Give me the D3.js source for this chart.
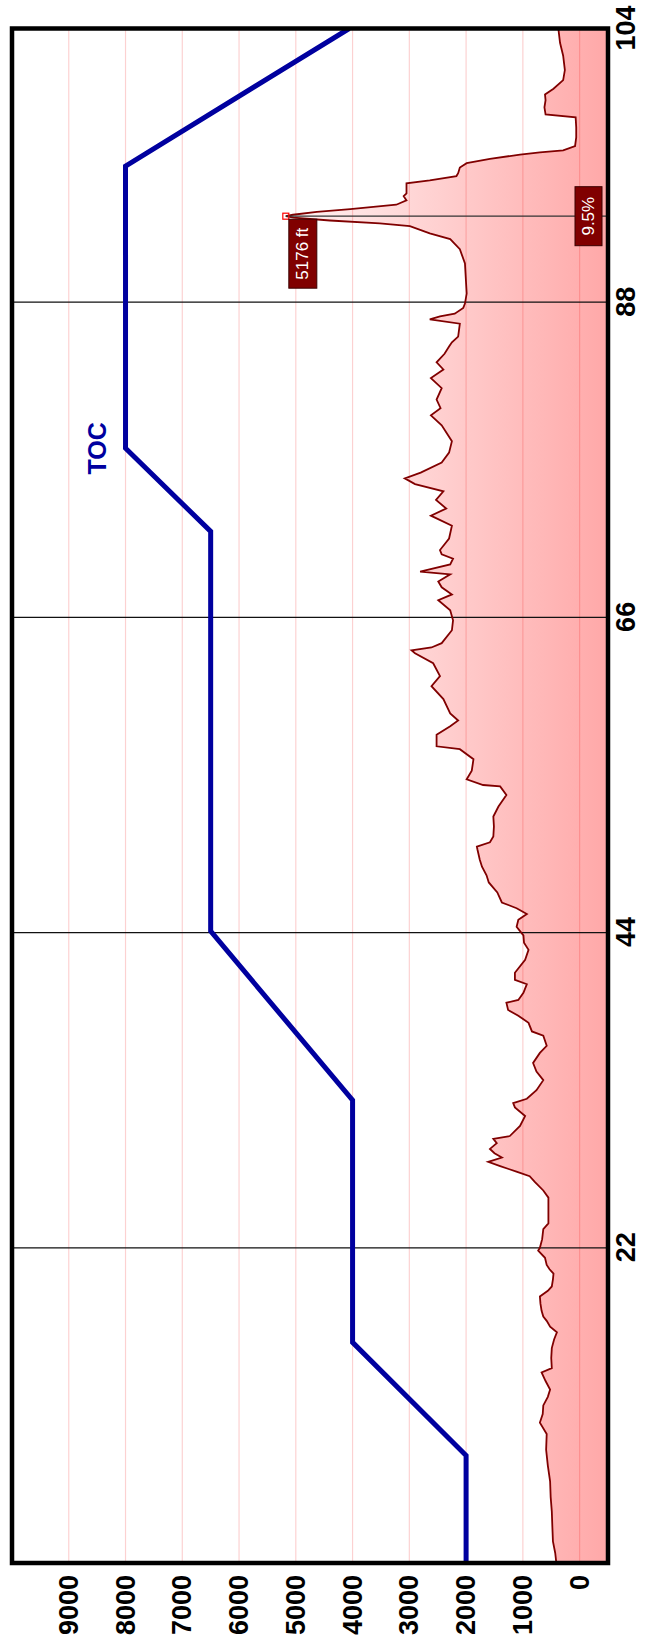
<!DOCTYPE html>
<html>
<head>
<meta charset="utf-8">
<script src="https://cdn.jsdelivr.net/npm/d3@7"></script>
<style>
    html, body { margin: 0; padding: 0; background: #fff; }
    svg { display: block; }
    text { font-family: 'Liberation Sans', Arial, sans-serif; }
    .axis text { font-size: 27px; font-weight: bold; fill: #000; }
</style>
</head>
<body>
<div id="graph"></div>
<script>
// terrain profile along the route: distance (nm) and elevation (ft)
var terrainDist = [
    0.0, 0.7, 1.5, 2.5, 3.6, 4.6, 5.7, 6.8, 7.9, 9.0, 9.8, 10.4, 11.0, 11.6, 12.1, 12.7, 13.3, 13.6,
    14.3, 15.0, 15.6, 16.1, 16.5, 16.9, 17.2, 17.6, 18.1, 18.6, 19.0, 19.3, 19.8, 20.2, 20.5, 20.8,
    21.3, 21.8, 22.0, 22.6, 23.3, 23.7, 24.6, 25.5, 26.0, 26.6, 27.0, 27.3, 27.5, 27.7, 28.0, 28.3,
    28.6, 28.9, 29.3, 29.6, 29.8, 30.5, 31.2, 31.8, 32.1, 32.4, 33.0, 33.7, 34.3, 34.9, 35.6, 36.1,
    36.8, 37.1, 37.7, 38.2, 38.6, 39.1, 39.3, 39.8, 40.4, 40.7, 41.2, 42.1, 42.8, 43.3, 43.8, 44.4,
    44.9, 45.3, 45.7, 46.1, 46.8, 47.5, 48.0, 48.6, 49.1, 49.8, 50.0, 50.3, 50.7, 51.4, 52.1, 52.8,
    53.6, 54.2, 54.3, 54.7, 55.3, 56.1, 56.8, 57.0, 57.8, 58.4, 58.8, 59.3, 60.3, 61.2, 61.9, 62.8,
    63.5, 63.7, 63.9, 64.2, 65.1, 65.8, 66.5, 67.2, 67.6, 68.1, 68.5, 69.0, 69.2, 69.7, 70.1, 70.4,
    70.7, 71.5, 72.4, 73.1, 73.6, 74.2, 74.8, 75.3, 75.7, 76.1, 76.8, 77.5, 78.3, 79.4, 80.1, 80.6,
    81.2, 82.0, 82.7, 83.3, 83.8, 84.4, 84.9, 85.2, 85.6, 86.5, 86.8, 87.0, 87.2, 87.6, 87.9, 88.6,
    90.7, 91.7, 92.4, 92.8, 93.3, 93.5, 93.7, 93.9, 94.0, 94.1, 94.3, 94.5, 94.8, 95.1, 95.4, 95.6,
    96.3, 96.5, 96.8, 97.0, 97.4, 97.7, 98.0, 98.3, 98.45, 98.6, 98.9, 99.5, 100.2, 100.9, 101.1,
    101.6, 102.1, 102.5, 102.9, 103.5, 104.2, 105.2, 106.1, 107.1
];
var terrainAlt = [
    410, 430, 470, 480, 490, 510, 520, 560, 590, 580, 700, 650, 640, 560, 520, 600, 670, 490,
    500, 490, 450, 400, 520, 580, 640, 670, 690, 700, 560, 490, 470, 460, 530, 580,
    610, 730, 700, 660, 640, 550, 550, 550, 640, 790, 880, 1100, 1250, 1400, 1610, 1370,
    1500, 1580, 1460, 1520, 1230, 1050, 960, 1140, 1170, 930, 760, 640, 760, 820, 700, 580,
    640, 840, 900, 1080, 1260, 1290, 1080, 990, 930, 1140, 1140, 960, 900, 980, 990, 1110,
    1080, 930, 1110, 1370, 1450, 1600, 1640, 1720, 1760, 1800, 1810, 1580, 1520, 1510, 1520, 1430,
    1290, 1400, 1700, 1990, 1900, 1870, 2110, 2520, 2520, 2280, 2140, 2280, 2400, 2610, 2460, 2580,
    2900, 2960, 2610, 2430, 2250, 2230, 2280, 2490, 2250, 2430, 2490, 2280, 2810, 2280, 2230, 2430,
    2460, 2300, 2250, 2620, 2350, 2530, 2400, 2900, 3080, 2800, 2430, 2300, 2250, 2430, 2620, 2450,
    2520, 2430, 2620, 2400, 2520, 2380, 2300, 2250, 2140, 2110, 2640, 2460, 2200, 2050, 2020, 1990,
    2020, 2110, 2280, 2640, 2990, 3520, 4400, 5040, 5176, 5050, 4630, 4040, 3230, 3050, 3100, 3050,
    3050, 2640, 2170, 2140, 2110, 1990, 1580, 1050, 700, 290, 80, 60, 60, 70, 600,
    620, 600, 610, 460, 290, 260, 290, 345, 375
];

// planned altitude profile (ft)
var planDist = [0, 7.5, 15.4, 32.3, 44.1, 72.0, 77.8, 97.5, 107.1];
var planAlt = [2000, 2000, 4000, 4000, 6500, 6500, 8000, 8000, 4060];

var distTicks = [22, 44, 66, 88];
var distEnd = 107.1;
var distEndLabel = '104';
var altTicks = [0, 1000, 2000, 3000, 4000, 5000, 6000, 7000, 8000, 9000];
var altMin = -500;
var altMax = 10000;

var tocDist = 77.8;
var tocAlt = 8000;
var tocLabel = 'TOC';

var peakDist = 94.0;
var peakAlt = 5176;
var peakLabel = '5176 ft';
var slopeLabel = '9.5%';

window.onload = start;

function start() {
    var width = 654;
    var height = 1649;
    var plotLeft = 12;
    var plotTop = 28.5;
    var plotRight = 608;
    var plotBottom = 1563;

    // the profile is drawn as a normal chart, then turned a quarter turn
    var W = plotBottom - plotTop;
    var H = plotRight - plotLeft;

    var svg = d3
        .select('#graph')
        .append('svg')
        .attr('width', width)
        .attr('height', height);

    var xScale = d3.scaleLinear().domain([0, distEnd]).range([0, W]);
    var yScale = d3.scaleLinear().domain([altMin, altMax]).range([H, 0]);

    var defs = svg.append('defs');
    defs.append('clipPath')
        .attr('id', 'plotClip')
        .append('rect')
        .attr('x', 0)
        .attr('y', 0)
        .attr('width', W)
        .attr('height', H);

    var grad = defs
        .append('linearGradient')
        .attr('id', 'terrainFill')
        .attr('gradientUnits', 'userSpaceOnUse')
        .attr('x1', 0)
        .attr('x2', 0)
        .attr('y1', yScale(6000))
        .attr('y2', yScale(altMin));
    grad.append('stop').attr('offset', '0%').attr('stop-color', '#ffffff');
    grad.append('stop').attr('offset', '100%').attr('stop-color', '#ffa8a8');

    var chart = svg
        .append('g')
        .attr('transform', 'translate(' + plotLeft + ',' + plotBottom + ') rotate(-90)');

    var plot = chart.append('g').attr('clip-path', 'url(#plotClip)');

    var terrain = terrainDist.map(function(d, i) {
        return { dist: d, alt: terrainAlt[i] };
    });
    var plan = planDist.map(function(d, i) {
        return { dist: d, alt: planAlt[i] };
    });

    var area = d3
        .area()
        .x(function(d) {
            return xScale(d.dist);
        })
        .y0(H)
        .y1(function(d) {
            return yScale(d.alt);
        });
    var line = d3
        .line()
        .x(function(d) {
            return xScale(d.dist);
        })
        .y(function(d) {
            return yScale(d.alt);
        });

    plot.append('path')
        .datum(terrain)
        .attr('d', area)
        .attr('fill', 'url(#terrainFill)');

    // altitude grid
    plot.append('g')
        .selectAll('line')
        .data(altTicks)
        .enter()
        .append('line')
        .attr('x1', 0)
        .attr('x2', W)
        .attr('y1', function(d) {
            return yScale(d);
        })
        .attr('y2', function(d) {
            return yScale(d);
        })
        .attr('stroke', 'rgba(240,0,0,0.18)')
        .attr('stroke-width', 1.2);

    // distance grid
    plot.append('g')
        .selectAll('line')
        .data(distTicks)
        .enter()
        .append('line')
        .attr('x1', function(d) {
            return xScale(d);
        })
        .attr('x2', function(d) {
            return xScale(d);
        })
        .attr('y1', 0)
        .attr('y2', H)
        .attr('stroke', '#111')
        .attr('stroke-width', 1.2);

    plot.append('path')
        .datum(terrain)
        .attr('d', line)
        .attr('fill', 'none')
        .attr('stroke', '#800000')
        .attr('stroke-width', 1.8)
        .attr('stroke-linejoin', 'miter');

    // highest terrain marker
    var px = xScale(peakDist);
    var py = yScale(peakAlt);
    plot.append('line')
        .attr('x1', px)
        .attr('x2', px)
        .attr('y1', py)
        .attr('y2', H)
        .attr('stroke', '#333')
        .attr('stroke-width', 1.2);

    plot.append('path')
        .datum(plan)
        .attr('d', line)
        .attr('fill', 'none')
        .attr('stroke', '#00009f')
        .attr('stroke-width', 5)
        .attr('stroke-linejoin', 'miter');

    plot.append('rect')
        .attr('x', px - 3)
        .attr('y', py - 3)
        .attr('width', 6)
        .attr('height', 6)
        .attr('fill', 'none')
        .attr('stroke', '#ff0000')
        .attr('stroke-width', 1.2);

    plot.append('rect')
        .attr('x', px - 72)
        .attr('y', py + 3)
        .attr('width', 69)
        .attr('height', 28)
        .attr('fill', '#800000')
        .attr('stroke', '#3a0000');
    plot.append('text')
        .attr('x', px - 37.5)
        .attr('y', py + 17)
        .attr('text-anchor', 'middle')
        .attr('dominant-baseline', 'central')
        .attr('fill', '#fff')
        .attr('font-size', 17)
        .text(peakLabel);

    plot.append('rect')
        .attr('x', px - 29.5)
        .attr('y', H - 33)
        .attr('width', 59)
        .attr('height', 27)
        .attr('fill', '#800000')
        .attr('stroke', '#3a0000');
    plot.append('text')
        .attr('x', px)
        .attr('y', H - 19.5)
        .attr('text-anchor', 'middle')
        .attr('dominant-baseline', 'central')
        .attr('fill', '#fff')
        .attr('font-size', 17)
        .text(slopeLabel);

    chart.append('text')
        .attr('x', xScale(tocDist))
        .attr('y', yScale(tocAlt) - 20)
        .attr('text-anchor', 'middle')
        .attr('fill', '#00009f')
        .attr('font-size', 25)
        .attr('font-weight', 'bold')
        .text(tocLabel);

    // axes
    var yAxis = d3
        .axisLeft(yScale)
        .tickValues(altTicks)
        .tickSize(0)
        .tickPadding(12)
        .tickFormat(d3.format('d'));
    var xAxis = d3
        .axisBottom(xScale)
        .tickValues(distTicks.concat([distEnd]))
        .tickSize(0)
        .tickPadding(8)
        .tickFormat(function(d) {
            return d === distEnd ? distEndLabel : d;
        });

    chart.append('g')
        .attr('class', 'axis')
        .call(yAxis)
        .call(function(g) {
            g.select('.domain').remove();
        })
        .selectAll('text')
        .attr('font-family', null)
        .attr('font-size', null);

    chart.append('g')
        .attr('class', 'axis')
        .attr('transform', 'translate(0,' + H + ')')
        .call(xAxis)
        .call(function(g) {
            g.select('.domain').remove();
        })
        .selectAll('text')
        .attr('font-family', null)
        .attr('font-size', null);

    // frame
    chart.append('rect')
        .attr('x', 0)
        .attr('y', 0)
        .attr('width', W)
        .attr('height', H)
        .attr('fill', 'none')
        .attr('stroke', '#000')
        .attr('stroke-width', 4.5);
}
</script>
</body>
</html>
